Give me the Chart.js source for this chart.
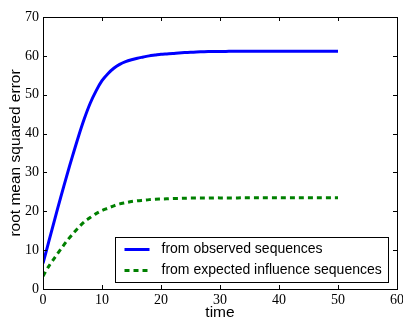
<!DOCTYPE html>
<html>
<head>
<meta charset="utf-8">
<script src="https://cdn.jsdelivr.net/npm/chart.js@4/dist/chart.umd.min.js"></script>
<style>
  html, body { margin: 0; padding: 0; background: #fff; }
  #wrap { width: 403px; height: 320px; position: relative; }
</style>
</head>
<body>
<div id="wrap"><canvas id="c" width="403" height="320"></canvas></div>
<script>
// time steps
const times = [0,1,2,3,4,5,6,7,8,9,10,11,12,13,14,15,16,17,18,19,20,21,22,23,24,25,
               26,27,28,29,30,31,32,33,34,35,36,37,38,39,40,41,42,43,44,45,46,47,48,49,50];

// RMSE using the observed sequences
const observed = [6.6,12.3,18.0,23.6,29.0,34.2,39.2,43.8,47.8,51.0,53.6,55.4,56.8,57.8,58.5,59.0,
                  59.4,59.7,60.0,60.2,60.4,60.5,60.6,60.75,60.85,60.9,61.0,61.05,61.1,61.1,61.15,
                  61.15,61.2,61.2,61.2,61.2,61.2,61.2,61.2,61.2,61.2,61.2,61.2,61.2,61.2,61.2,
                  61.2,61.2,61.2,61.2,61.2];

// RMSE using the expected influence sequences
const expected = [3.3,5.9,8.1,10.2,12.3,14.1,15.8,17.3,18.4,19.4,20.2,20.8,21.4,21.9,22.2,22.5,
                  22.7,22.85,23.0,23.1,23.15,23.2,23.3,23.3,23.35,23.4,23.4,23.4,23.4,23.45,23.45,
                  23.45,23.45,23.45,23.5,23.5,23.5,23.5,23.5,23.5,23.5,23.5,23.5,23.5,23.5,23.5,
                  23.5,23.5,23.5,23.5,23.5];

const seriesLabels = ['from observed sequences', 'from expected influence sequences'];
const xTicks = [0, 10, 20, 30, 40, 50, 60];
const yTicks = [0, 10, 20, 30, 40, 50, 60, 70];

const tickFont = { family: '"Liberation Serif", "DejaVu Serif", serif', size: 14 };
const titleFont = { family: '"Liberation Sans", Arial, sans-serif', size: 15.5 };

// frame on all four sides with inward tick marks, plus the boxed legend
const framePlugin = {
  id: 'frame',
  afterDraw(chart) {
    const { ctx, chartArea: a, scales } = chart;
    ctx.save();
    ctx.strokeStyle = '#000';
    ctx.lineWidth = 1;
    ctx.strokeRect(Math.round(a.left) + 0.5, Math.round(a.top) + 0.5,
                   Math.round(a.right - a.left), Math.round(a.bottom - a.top));
    const len = 4;
    ctx.beginPath();
    xTicks.forEach(v => {
      const x = Math.round(scales.x.getPixelForValue(v)) + 0.5;
      ctx.moveTo(x, a.bottom); ctx.lineTo(x, a.bottom - len);
      ctx.moveTo(x, a.top); ctx.lineTo(x, a.top + len);
    });
    yTicks.forEach(v => {
      const y = Math.round(scales.y.getPixelForValue(v)) + 0.5;
      ctx.moveTo(a.left, y); ctx.lineTo(a.left + len, y);
      ctx.moveTo(a.right, y); ctx.lineTo(a.right - len, y);
    });
    ctx.stroke();

    // legend box in the lower right of the plot
    const bw = 273, bh = 45;
    const bx = Math.round(a.right - 9 - bw) + 0.5;
    const by = Math.round(a.bottom - 7 - bh) + 0.5;
    ctx.fillStyle = '#fff';
    ctx.fillRect(bx, by, bw, bh);
    ctx.strokeRect(bx, by, bw, bh);
    ctx.font = '14px "Liberation Sans", Arial, sans-serif';
    ctx.textBaseline = 'middle';
    chart.data.datasets.forEach((ds, i) => {
      const cy = by + 12 + i * 21;
      ctx.strokeStyle = ds.borderColor;
      ctx.lineWidth = ds.borderWidth;
      ctx.setLineDash(ds.borderDash || []);
      ctx.lineCap = 'butt';
      ctx.beginPath();
      ctx.moveTo(bx + 9, cy); ctx.lineTo(bx + 34, cy);
      ctx.stroke();
      ctx.setLineDash([]);
      ctx.fillStyle = '#000';
      ctx.fillText(ds.label, bx + 46, cy);
    });
    ctx.restore();
  }
};

new Chart(document.getElementById('c'), {
  type: 'line',
  data: {
    labels: times,
    datasets: [
      { label: seriesLabels[0], data: times.map((t, i) => ({ x: t, y: observed[i] })),
        borderColor: '#0000ff', borderWidth: 3, pointRadius: 0, tension: 0.3, fill: false },
      { label: seriesLabels[1], data: times.map((t, i) => ({ x: t, y: expected[i] })),
        borderColor: '#008000', borderWidth: 3, borderDash: [5, 4], pointRadius: 0, tension: 0.3, fill: false }
    ]
  },
  options: {
    responsive: false,
    animation: false,
    layout: { padding: { top: 17, right: 6, left: 0, bottom: 0 } },
    plugins: { legend: { display: false }, tooltip: { enabled: false } },
    scales: {
      x: {
        type: 'linear', min: 0, max: 60,
        afterBuildTicks: s => { s.ticks = xTicks.map(v => ({ value: v })); },
        afterFit: s => { s.height = 31; s.paddingLeft = 0; s.paddingRight = 0; },
        grid: { display: false, drawTicks: false },
        border: { display: false },
        ticks: { color: '#000', font: tickFont, padding: 3, maxRotation: 0 },
        title: { display: true, text: 'time', color: '#000', font: titleFont, padding: { top: 0, bottom: -2.5 } }
      },
      y: {
        type: 'linear', min: 0, max: 70,
        afterBuildTicks: s => { s.ticks = yTicks.map(v => ({ value: v })); },
        afterFit: s => { s.width = 43; s.paddingTop = 0; s.paddingBottom = 0; },
        grid: { display: false, drawTicks: false },
        border: { display: false },
        ticks: { color: '#000', font: tickFont, padding: 4 },
        title: { display: true, text: 'root mean squared error', color: '#000', font: titleFont, padding: { top: 6, bottom: 0 } }
      }
    }
  },
  plugins: [framePlugin]
});
</script>
</body>
</html>
